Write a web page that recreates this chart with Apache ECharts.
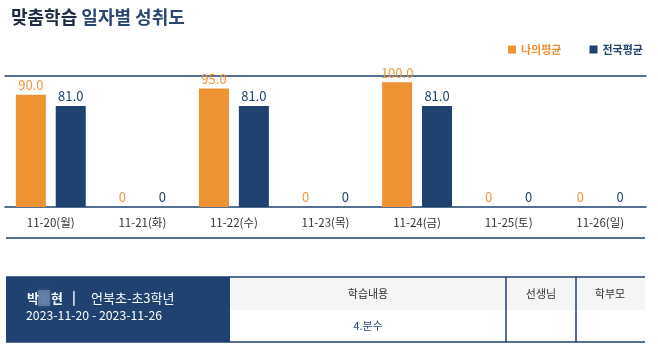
<!DOCTYPE html>
<html>
<head>
<meta charset="utf-8">
<script src="https://cdn.jsdelivr.net/npm/echarts@6/dist/echarts.min.js"></script>
<style>
  html, body { margin: 0; padding: 0; background: #fff; }
  #chart { width: 658px; height: 348px; }
</style>
</head>
<body>
<div id="chart"></div>
<script>
// Daily achievement for one week
const days = ['11-20(월)', '11-21(화)', '11-22(수)', '11-23(목)', '11-24(금)', '11-25(토)', '11-26(일)'];
const myScores = [90, 0, 95, 0, 100, 0, 0];
const nationalScores = [81, 0, 81, 0, 81, 0, 0];
const seriesNames = ['나의평균', '전국평균'];

const studentFirst = '박';
const studentLast = '현';
const schoolInfo = '언북초-초3학년';
const period = '2023-11-20 - 2023-11-26';
const tableHeaders = ['학습내용', '선생님', '학부모'];
const lessons = ['4.분수'];

const ORANGE = '#ef9234';
const NAVY = '#1f4270';
const FONT = '"Noto Sans CJK KR", "Noto Sans", sans-serif';

const fmt = p => (p.value === 0 ? '0' : p.value.toFixed(1));

const chart = echarts.init(document.getElementById('chart'));

const hLine = (y, x1, x2) => ({
  type: 'line', silent: true,
  shape: { x1: x1, y1: y, x2: x2, y2: y },
  style: { stroke: NAVY, lineWidth: 1.5 }
});
const vLine = (x, y1, y2) => ({
  type: 'line', silent: true,
  shape: { x1: x, y1: y1, x2: x, y2: y2 },
  style: { stroke: NAVY, lineWidth: 1.5 }
});
const txt = (x, y, text, size, color, weight, align) => ({
  type: 'text', silent: true, x: x, y: y,
  style: {
    text: text, fill: color, fontSize: size, fontFamily: FONT,
    fontWeight: weight || 'normal', textAlign: align || 'left', textVerticalAlign: 'middle'
  }
});

chart.setOption({
  animation: false,
  textStyle: { fontFamily: FONT },
  title: {
    left: 6, top: 3,
    text: '{b|맞춤학습}{n| 일자별 성취도}',
    textStyle: {
      rich: {
        b: { fontSize: 18, fontWeight: 'bold', color: '#1d2b45', fontFamily: FONT },
        n: { fontSize: 18, color: '#2a4672', fontFamily: FONT }
      }
    }
  },
  legend: {
    left: 503, top: 39,
    icon: 'rect', itemWidth: 8, itemHeight: 8, itemGap: 28,
    textStyle: { fontSize: 11, fontWeight: 'bold', fontFamily: FONT },
    data: [
      { name: seriesNames[0], textStyle: { color: ORANGE } },
      { name: seriesNames[1], textStyle: { color: NAVY } }
    ]
  },
  grid: { left: 5, right: 12, top: 76, bottom: 141 },
  xAxis: [{
    type: 'category', data: days,
    axisLine: { lineStyle: { color: NAVY, width: 1.5 } },
    axisTick: { show: false },
    axisLabel: { color: '#333', fontSize: 11.5, margin: 10, fontFamily: FONT }
  }, {
    type: 'category', data: days, position: 'top',
    axisLine: { lineStyle: { color: NAVY, width: 1.5 } },
    axisTick: { show: false }, axisLabel: { show: false }
  }],
  yAxis: { type: 'value', min: 0, max: 105, show: false, splitLine: { show: false } },
  series: [{
    name: seriesNames[0], type: 'bar', data: myScores,
    barWidth: 30, barGap: '33%',
    itemStyle: { color: ORANGE },
    label: { show: true, position: 'top', distance: 3, color: '#f0953e', fontSize: 13, formatter: fmt }
  }, {
    name: seriesNames[1], type: 'bar', data: nationalScores,
    barWidth: 30,
    itemStyle: { color: NAVY },
    label: { show: true, position: 'top', distance: 3, color: NAVY, fontSize: 13, formatter: fmt }
  }],
  graphic: [
    hLine(238, 6, 645),
    // student summary table
    { type: 'rect', silent: true, shape: { x: 230, y: 277, width: 415, height: 33 }, style: { fill: '#f4f6f6' } },
    { type: 'rect', silent: true, shape: { x: 6, y: 277, width: 224, height: 65 }, style: { fill: NAVY } },
    hLine(277, 6, 645),
    hLine(342, 6, 645),
    vLine(506, 277, 342),
    vLine(576, 277, 342),
    txt(27, 298, studentFirst, 13, '#fff', 'bold'),
    { type: 'rect', silent: true, shape: { x: 38, y: 290, width: 12, height: 16 },
      style: { fill: 'rgba(150,170,205,0.45)', shadowBlur: 4, shadowColor: 'rgba(150,170,205,0.6)' } },
    txt(51, 298, studentLast, 13, '#fff', 'bold'),
    txt(72, 297, '|', 13, '#fff', 'bold'),
    txt(91, 298, schoolInfo, 13, '#fff'),
    txt(26, 315, period, 12.3, '#fff'),
    txt(368, 294, tableHeaders[0], 11, '#333', 'normal', 'center'),
    txt(541, 294, tableHeaders[1], 11, '#333', 'normal', 'center'),
    txt(610, 294, tableHeaders[2], 11, '#333', 'normal', 'center'),
    txt(368, 326, lessons[0], 11, '#2b4a7a', 'normal', 'center')
  ]
});
</script>
</body>
</html>
